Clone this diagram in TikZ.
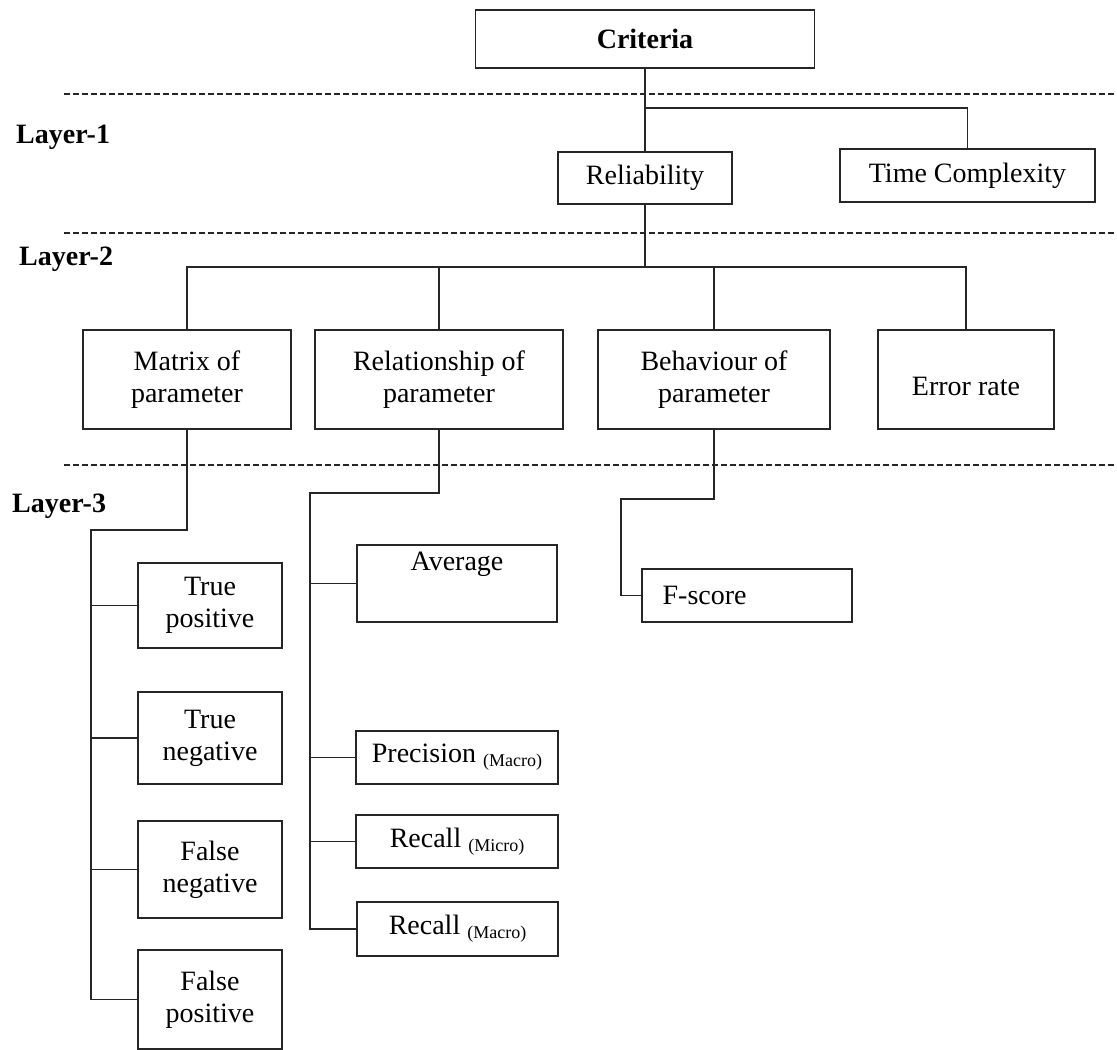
\documentclass[tikz,border=0pt]{standalone}
\usepackage{fontspec}
\setmainfont{Liberation Serif}
\begin{document}
\begin{tikzpicture}[x=1pt,y=-1pt,
  box/.style={draw=black!85, line width=1.1pt, inner sep=0pt, align=center,
    font=\fontsize{28}{32}\selectfont},
  conn/.style={draw=black!85, line width=1.1pt},
  trunk/.style={draw=black!85, line width=2pt},
  layerline/.style={draw=black!85, line width=1.1pt, dash pattern=on 6pt off 3pt},
  layerlbl/.style={anchor=base west, inner sep=0pt, font=\fontsize{28}{32}\selectfont\bfseries},
  txt/.style={inner sep=0pt, font=\fontsize{28}{32}\selectfont}]
\useasboundingbox (0,0) rectangle (1117,1050);

% layer separators
\draw[layerline] (64,94) -- (1117,94);
\draw[layerline] (64,233) -- (1117,233);
\draw[layerline] (64,465) -- (1117,465);
\node[layerlbl] (l1) at (16,143) {Layer-1};
\node[layerlbl] (l2) at (19,265) {Layer-2};
\node[layerlbl] (l3) at (12,512) {Layer-3};

% nodes
\node[box, minimum width=339pt, minimum height=58pt, font=\fontsize{28}{32}\selectfont\bfseries] (crit) at (645,39) {Criteria};
\node[box, minimum width=174pt, minimum height=52pt] (rel) at (645,178) {Reliability};
\node[box, minimum width=255pt, minimum height=53pt] (tc) at (967.5,175.5) {Time Complexity};

\node[box, minimum width=208pt, minimum height=99pt] (mat) at (187,379.5) {Matrix of\\parameter};
\node[box, minimum width=248pt, minimum height=99pt] (relp) at (439,379.5) {Relationship of\\parameter};
\node[box, minimum width=232pt, minimum height=99pt] (beh) at (714,379.5) {Behaviour of\\parameter};
\node[box, minimum width=176pt, minimum height=99pt,
  label={[txt, anchor=center, yshift=-7pt]center:Error rate}] (err) at (966,379.5) {};

\node[box, minimum width=144pt, minimum height=85pt] (tp) at (210,605.5) {True\\positive};
\node[box, minimum width=144pt, minimum height=92pt] (tn) at (210,738) {True\\negative};
\node[box, minimum width=144pt, minimum height=97pt] (fn) at (210,869.5) {False\\negative};
\node[box, minimum width=144pt, minimum height=99pt] (fp) at (210,999.5) {False\\positive};

\node[box, minimum width=200pt, minimum height=77pt,
  label={[txt, anchor=north, yshift=-7pt]north:Average}] (avg) at (457,583.5) {};
\node[box, minimum width=202pt, minimum height=53pt] (prec) at (457,757.5)
  {Precision \raisebox{-4pt}{\fontsize{18}{20}\selectfont(Macro)}};
\node[box, minimum width=202pt, minimum height=53pt] (rmi) at (457,841.5)
  {Recall \raisebox{-4pt}{\fontsize{18}{20}\selectfont(Micro)}};
\node[box, minimum width=201pt, minimum height=54pt] (rma) at (457.5,929)
  {Recall \raisebox{-4pt}{\fontsize{18}{20}\selectfont(Macro)}};

\node[box, minimum width=210pt, minimum height=53pt,
  label={[txt, anchor=west, xshift=21pt]west:F-score}] (fs) at (747,595.5) {};

% junction coordinates
\coordinate (cj) at (645,108);
\coordinate (rj) at (645,267);
\coordinate (mj) at (91,530);
\coordinate (pj) at (310,493);
\coordinate (bj) at (621,499);

% connectors layer 1
\draw[conn] (crit.south) -- (rel.north);
\draw[conn] (cj) -| (tc.north);

% connectors layer 2
\draw[trunk] (rel.south) -- (rj);
\draw[conn] (rj) -| (mat.north);
\draw[conn] (rj) -| (relp.north);
\draw[conn] (rj) -| (beh.north);
\draw[conn] (rj) -| (err.north);

% connectors layer 3
\draw[trunk] (mat.south) |- (mj) -- (mj |- tp.west);
\draw[conn] (mj) |- (tp.west);
\draw[conn] (mj) |- (tn.west);
\draw[conn] (mj) |- (fn.west);
\draw[conn] (mj) |- (fp.west);

\draw[trunk] (relp.south) |- (pj) -- (pj |- prec.west);
\draw[conn] (pj) |- (avg.west);
\draw[conn] (pj) |- (prec.west);
\draw[conn] (pj) |- (rmi.west);
\draw[conn] (pj) |- (rma.west);

\draw[conn] (beh.south) |- (bj) |- (fs.west);
\end{tikzpicture}
\end{document}
